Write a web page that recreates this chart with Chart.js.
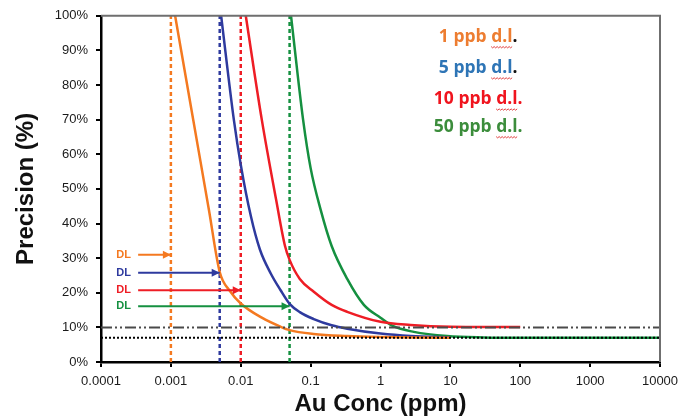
<!DOCTYPE html>
<html>
<head>
<meta charset="utf-8">
<script src="https://cdn.jsdelivr.net/npm/chart.js@4.4.1/dist/chart.umd.min.js"></script>
<style>
    html, body { margin: 0; padding: 0; background: #fff; }
    #wrap { width: 693px; height: 419px; }
</style>
</head>
<body>
<div id="wrap"><canvas id="chart" width="693" height="419"></canvas></div>
<script>
// Au precision vs concentration for four detection limits

const xTicks = [0.0001, 0.001, 0.01, 0.1, 1, 10, 100, 1000, 10000];

const dlConc = [0.001, 0.005, 0.01, 0.05];
const dlNames = ['1 ppb d.l.', '5 ppb d.l.', '10 ppb d.l.', '50 ppb d.l.'];

const conc1 = [0.00115, 0.0021, 0.0035, 0.005, 0.007, 0.01, 0.02, 0.037, 0.05, 0.11, 0.33, 1, 3, 10];
const prec1 = [100, 69.7, 44, 26, 20.5, 16.9, 12.8, 10.2, 9.2, 8.1, 7.5, 7.2, 7.05, 7.0];

const conc5 = [0.00524, 0.008, 0.01, 0.014, 0.0188, 0.027, 0.037, 0.05, 0.07, 0.111, 0.2, 0.334, 1, 2.7, 10];
const prec5 = [100, 69.7, 57, 42, 32.5, 25.5, 20.8, 16.8, 14.4, 12.4, 10.6, 9.6, 8.2, 7.5, 7.15];

const conc10 = [0.0118, 0.02, 0.032, 0.043, 0.05, 0.07, 0.111, 0.2, 0.334, 1, 2.7, 10, 100];
const prec10 = [100, 70, 47, 33.5, 29.5, 24, 20.3, 16.5, 14.5, 11.6, 10.7, 10.2, 10.1];

const conc50 = [0.0524, 0.078, 0.1, 0.139, 0.2, 0.334, 0.578, 1, 1.5, 3, 9, 30, 100, 10000];
const prec50 = [100, 70, 56, 44, 33.5, 24, 16.5, 12.8, 10.4, 8.7, 7.5, 7.1, 7.0, 7.0];

// DL arrows (height in %), where they start and where the "DL" text sits
const arrowY = [31, 25.8, 20.7, 16.1];
const arrowFrom = 0.00034;
const dlLabelAt = 0.00021;

// reference precision levels
const refLevels = [10, 7];

// legend text block (in data units)
const legendX = 25;
const legendY = [94, 85, 76, 68];

const lineColors = ['#F47920', '#2E3A9E', '#EE1D25', '#159040'];
const textColors = ['#ED7D31', '#2E75B6', '#F0141E', '#3C8D3C'];
const periodColors = ['#111', '#111', '#F0141E', '#3C8D3C'];

function pts(xs, ys) {
    return xs.map((v, i) => ({ x: v, y: ys[i] }));
}

const curves = [[conc1, prec1], [conc5, prec5], [conc10, prec10], [conc50, prec50]];

const datasets = [];

// reference lines first so they are drawn on top
datasets.push({
    data: [{ x: xTicks[0], y: refLevels[0] }, { x: xTicks[xTicks.length - 1], y: refLevels[0] }],
    borderColor: '#4a4a4a', borderWidth: 2, borderDash: [11, 3, 2, 3, 2, 3], pointRadius: 0
});
datasets.push({
    data: [{ x: xTicks[0], y: refLevels[1] }, { x: xTicks[xTicks.length - 1], y: refLevels[1] }],
    borderColor: '#000', borderWidth: 2, borderDash: [2, 2], pointRadius: 0
});

dlConc.forEach((dl, i) => {
    datasets.push({
        data: [{ x: arrowFrom, y: arrowY[i] }, { x: dl, y: arrowY[i] }],
        borderColor: lineColors[i], borderWidth: 2, pointRadius: 0
    });
});

curves.forEach((c, i) => {
    datasets.push({
        data: pts(c[0], c[1]),
        borderColor: lineColors[i], borderWidth: 2.5, pointRadius: 0,
        cubicInterpolationMode: 'monotone'
    });
});

dlConc.forEach((dl, i) => {
    datasets.push({
        data: [{ x: dl, y: 0 }, { x: dl, y: 100 }],
        borderColor: lineColors[i], borderWidth: 2.5, borderDash: [4, 3], pointRadius: 0
    });
});

const extras = {
    id: 'extras',
    afterDatasetsDraw(chart) {
        const ctx = chart.ctx;
        const xs = chart.scales.x, ys = chart.scales.y;
        const area = chart.chartArea;

        // top and right frame
        ctx.save();
        ctx.strokeStyle = '#6f6f6f';
        ctx.lineWidth = 2;
        ctx.beginPath();
        ctx.moveTo(area.left, area.top);
        ctx.lineTo(area.right, area.top);
        ctx.lineTo(area.right, area.bottom);
        ctx.stroke();

        // arrow heads and DL text
        dlConc.forEach((dl, i) => {
            const px = xs.getPixelForValue(dl);
            const py = ys.getPixelForValue(arrowY[i]);
            ctx.fillStyle = lineColors[i];
            ctx.beginPath();
            ctx.moveTo(px, py);
            ctx.lineTo(px - 8, py - 4);
            ctx.lineTo(px - 8, py + 4);
            ctx.closePath();
            ctx.fill();

            ctx.font = 'bold 11px "Liberation Sans", Arial, sans-serif';
            ctx.textAlign = 'center';
            ctx.textBaseline = 'middle';
            ctx.fillText('DL', xs.getPixelForValue(dlLabelAt), py);
        });

        // legend text block
        ctx.font = 'bold 17.5px "Open Sans", sans-serif';
        ctx.textAlign = 'left';
        ctx.textBaseline = 'middle';
        dlNames.forEach((name, i) => {
            const cx = xs.getPixelForValue(legendX);
            const cy = ys.getPixelForValue(legendY[i]);
            const body = name.slice(0, -1);
            const left = cx - ctx.measureText(name).width / 2;
            ctx.fillStyle = textColors[i];
            ctx.fillText(body, left, cy);
            const wBody = ctx.measureText(body).width;
            ctx.fillStyle = periodColors[i];
            ctx.fillText('.', left + wBody, cy);

            // spell-check squiggle under "d.l"
            const u0 = left + ctx.measureText(body.slice(0, body.indexOf('d.l'))).width;
            const u1 = left + wBody;
            const uy = cy + 10;
            ctx.strokeStyle = '#E04040';
            ctx.lineWidth = 1;
            ctx.beginPath();
            ctx.moveTo(u0, uy);
            let k = 0;
            for (let ux = u0 + 1.5; ux <= u1; ux += 1.5) {
                k++;
                ctx.lineTo(ux, uy + (k % 2 ? 1.3 : 0));
            }
            ctx.stroke();
        });
        ctx.restore();
    }
};

const tickFont = { family: '"Liberation Sans", Arial, sans-serif', size: 13 };
const titleFont = { family: '"Liberation Sans", Arial, sans-serif', size: 24, weight: 'bold' };

new Chart(document.getElementById('chart'), {
    type: 'line',
    data: { datasets: datasets },
    options: {
        responsive: false,
        animation: false,
        devicePixelRatio: 1,
        layout: { padding: { top: 15, right: 33, bottom: 0, left: 0 } },
        plugins: {
            legend: { display: false },
            tooltip: { enabled: false }
        },
        scales: {
            x: {
                type: 'logarithmic',
                min: xTicks[0],
                max: xTicks[xTicks.length - 1],
                afterBuildTicks: (scale) => {
                    scale.ticks = xTicks.map(v => ({ value: v }));
                },
                afterFit: (scale) => { scale.height = 57; },
                ticks: {
                    font: tickFont, color: '#1a1a1a', padding: 7,
                    maxRotation: 0, autoSkip: false,
                    callback: (v) => String(v)
                },
                grid: { drawOnChartArea: false, drawTicks: true, tickLength: 5, color: '#000', lineWidth: 2 },
                border: { color: '#000', width: 2.5 },
                title: { display: true, text: 'Au Conc (ppm)', font: titleFont, color: '#111', padding: { top: 0, bottom: 0 } }
            },
            y: {
                min: 0,
                max: 100,
                afterFit: (scale) => { scale.width = 101; },
                ticks: {
                    font: tickFont, color: '#1a1a1a', padding: 8, stepSize: 10,
                    callback: (v) => v + '%'
                },
                grid: { drawOnChartArea: false, drawTicks: true, tickLength: 5, color: '#000', lineWidth: 2 },
                border: { color: '#000', width: 2.5 },
                title: { display: true, text: 'Precision (%)', font: titleFont, color: '#111', padding: { top: 12, bottom: 0 } }
            }
        }
    },
    plugins: [extras]
});
</script>
</body>
</html>
